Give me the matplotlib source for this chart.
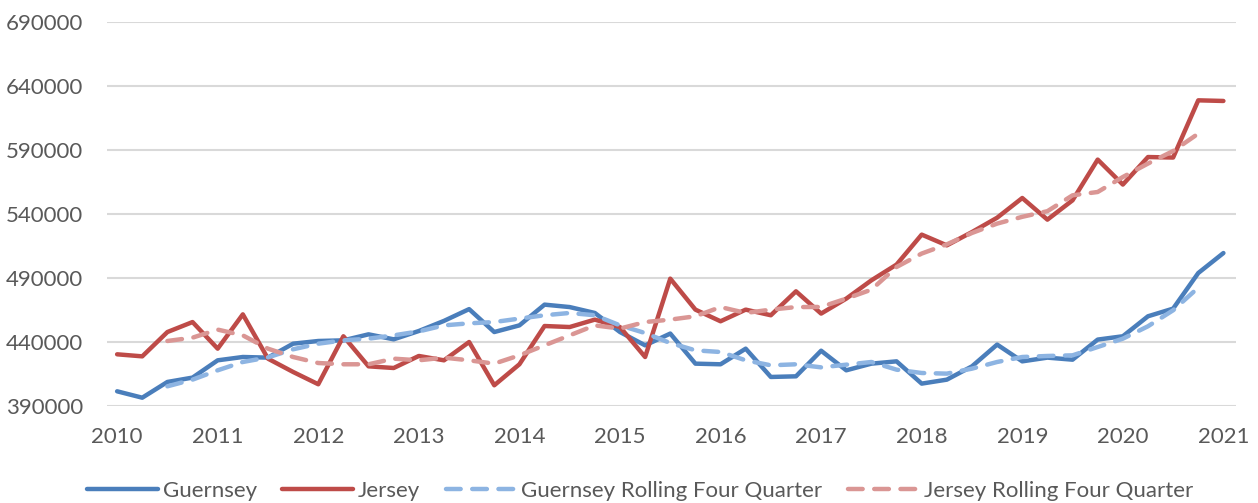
import matplotlib.pyplot as plt
import numpy as np

nan = np.nan

# quarterly, 2010 Q1 .. 2021 Q1
years = list(range(2010, 2022))

guernsey = [401500, 396500, 408800, 412200, 425700, 428300, 427800, 438700, 440800, 441300,
            446000, 442100, 448600, 456500, 465700, 447800, 453000, 469200, 467300, 462700,
            447800, 437400, 446600, 423100, 422600, 434800, 412700, 413200, 433200, 417900,
            423100, 424900, 407500, 410600, 421000, 438000, 424900, 427800, 426200, 441900,
            444500, 460100, 466100, 493900, 509500]

jersey = [430400, 428800, 447800, 455600, 434800, 461600, 427000, 416600, 407000, 444500,
          421000, 419700, 429100, 425700, 440000, 406200, 422600, 452500, 451700, 457500,
          451700, 428300, 489500, 465300, 456200, 465300, 460900, 479600, 462200, 473900,
          488200, 500500, 523900, 515500, 525900, 537100, 552500, 535600, 550700, 582500,
          563000, 584500, 584100, 628800, 628300]

guernsey_roll = [nan, nan, 405400, 410600, 417900, 424400, 428000, 434300, 438700, 441300,
                 442600, 445200, 448300, 453000, 454600, 455600, 458300, 460900, 462700, 460900,
                 453000, 447000, 439200, 433500, 432200, 425700, 421800, 422600, 420200, 422300,
                 424400, 418400, 415800, 415300, 419200, 424400, 428300, 429100, 429600, 436100,
                 442600, 452300, 464800, 482500, nan]

jersey_roll = [nan, nan, 440800, 443400, 449700, 445200, 434800, 428300, 423600, 422600,
               422600, 427000, 425700, 427800, 425700, 423100, 429600, 437400, 445200, 453000,
               450500, 455600, 457500, 460100, 467300, 462700, 465300, 467300, 467400, 473900,
               480900, 498600, 509100, 516300, 525200, 532500, 537800, 542200, 554600, 557200,
               568900, 579400, 589200, 602800, nan]

plt.rcParams['font.family'] = ['Lato', 'DejaVu Sans']

fig = plt.figure(figsize=(12.58, 5.03), dpi=100)
ax = fig.add_axes([0.0851, 0.1928, 0.8974, 0.7635])

x = np.arange(len(guernsey))
ax.plot(x, guernsey, color='#4A7EBB', lw=3.2, solid_capstyle='round', label='Guernsey')
ax.plot(x, jersey, color='#BE4B48', lw=3.2, solid_capstyle='round', label='Jersey')
ax.plot(x, guernsey_roll, color='#8DB4E2', lw=3.2, dashes=(3.3, 2.6), dash_capstyle='round',
        label='Guernsey Rolling Four Quarter')
ax.plot(x, jersey_roll, color='#DA9694', lw=3.2, dashes=(3.3, 2.6), dash_capstyle='round',
        label='Jersey Rolling Four Quarter')

ax.set_xlim(-0.4, 44.5)
ax.set_ylim(390000, 690000)
ax.set_yticks(range(390000, 690001, 50000))
ax.set_xticks(range(0, 45, 4))
ax.set_xticklabels([str(y) for y in years])
ax.grid(axis='y', color='#D9D9D9', lw=1.5)
ax.set_axisbelow(True)
for s in ax.spines.values():
    s.set_visible(False)
ax.tick_params(length=0, labelsize=16, colors='#595959')
ax.tick_params(axis='y', pad=17)
ax.tick_params(axis='x', pad=15)

fig.legend(loc='lower center', bbox_to_anchor=(0.5087, -0.035), ncol=4, frameon=False,
           fontsize=16, handlelength=3.2, handletextpad=0.2, columnspacing=1.15,
           labelcolor='#595959')

fig.savefig('out.png', dpi=100)
